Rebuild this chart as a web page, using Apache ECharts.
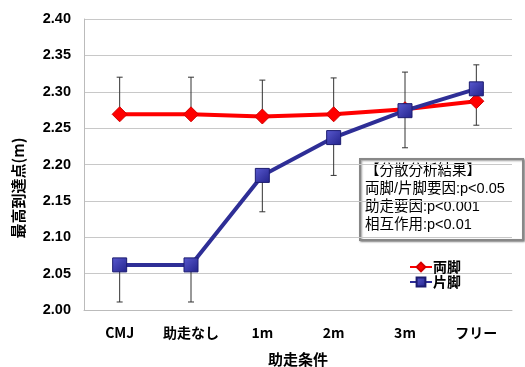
<!DOCTYPE html>
<html>
<head>
<meta charset="utf-8">
<script src="https://cdn.jsdelivr.net/npm/echarts@6/dist/echarts.min.js"></script>
<style>
  html, body { margin: 0; padding: 0; background: #fff; }
  #main { width: 525px; height: 367px; }
</style>
</head>
<body>
<div id="main"></div>
<script>
// データ
var categories = ['CMJ', '助走なし', '1m', '2m', '3m', 'フリー'];
var ryoashi = [2.269, 2.269, 2.266, 2.269, 2.276, 2.287];   // 両脚
var kataashi = [2.062, 2.062, 2.185, 2.237, 2.274, 2.304];  // 片脚
var ryoashiSD = [0.051, 0.051, 0.050, 0.050, 0.051, 0.050];
var kataashiSD = [0.051, 0.051, 0.050, 0.052, 0.051, 0.050];
var yTicks = [2.00, 2.05, 2.10, 2.15, 2.20, 2.25, 2.30, 2.35, 2.40];
var anovaLines = ['【分散分析結果】', '両脚/片脚要因:p<0.05', '助走要因:p<0.001', '相互作用:p<0.01'];

var FONT = '"Liberation Sans", "Noto Sans CJK JP", sans-serif';
var JFONT = '"Noto Sans CJK JP", "Liberation Sans", sans-serif';
var RED = '#ff0000';
var BLUE = '#2e2e96';

var chart = echarts.init(document.getElementById('main'));

// エラーバー (dir: 1 = 上, -1 = 下)
function errorData(vals, sds) {
    var out = [];
    for (var i = 0; i < vals.length; i++) {
        out.push([i, vals[i], sds[i]]);
    }
    return out;
}
function errorRenderer(dir) {
    return function (params, api) {
        var i = api.value(0);
        var v = api.value(1);
        var e = api.value(2);
        var p0 = api.coord([i, v]);
        var p1 = api.coord([i, v + dir * e]);
        var cap = 3;
        var st = { stroke: '#333', lineWidth: 1 };
        return {
            type: 'group',
            children: [
                { type: 'line', shape: { x1: p0[0], y1: p0[1], x2: p1[0], y2: p1[1] }, style: st },
                { type: 'line', shape: { x1: p1[0] - cap, y1: p1[1], x2: p1[0] + cap, y2: p1[1] }, style: st }
            ]
        };
    };
}

var textChildren = [];
for (var k = 0; k < anovaLines.length; k++) {
    textChildren.push({
        type: 'text',
        x: 5,
        y: 5 + k * 18,
        style: { text: anovaLines[k], font: '14.5px ' + FONT, fill: '#000' }
    });
}

var option = {
    animation: false,
    grid: { left: 84, right: 13, top: 19, bottom: 57, outerBoundsMode: 'none' },
    xAxis: {
        type: 'category',
        data: categories,
        boundaryGap: true,
        name: '助走条件',
        nameLocation: 'middle',
        nameGap: 42,
        nameTextStyle: { fontFamily: JFONT, fontSize: 15, fontWeight: 'bold', color: '#000' },
        axisLine: { lineStyle: { color: '#bbb', width: 1 } },
        axisTick: { inside: true, length: 4, lineStyle: { color: '#bbb' } },
        axisLabel: { interval: 0, fontFamily: JFONT, fontSize: 14, fontWeight: 'bold', color: '#000', margin: 16 }
    },
    yAxis: {
        type: 'value',
        min: 2.00,
        max: 2.40,
        interval: 0.05,
        axisLine: { show: true, lineStyle: { color: '#bbb', width: 1 } },
        axisTick: { show: false },
        splitLine: { lineStyle: { color: '#c8c8c8', width: 1 } },
        axisLabel: {
            fontFamily: FONT, fontSize: 14.5, fontWeight: 'bold', color: '#000', margin: 13,
            formatter: function (v) { return v.toFixed(2); }
        }
    },
    legend: {
        orient: 'vertical',
        left: 404,
        top: 255,
        itemGap: 1,
        itemWidth: 22,
        itemHeight: 11,
        textStyle: { fontFamily: JFONT, fontSize: 14, fontWeight: 'bold', color: '#000', padding: [0, 0, 0, -4] },
        data: ['両脚', '片脚']
    },
    series: [
        {
            type: 'custom',
            renderItem: errorRenderer(1),
            data: errorData(ryoashi, ryoashiSD),
            z: 1,
            silent: true
        },
        {
            type: 'custom',
            renderItem: errorRenderer(-1),
            data: errorData(kataashi, kataashiSD),
            z: 1,
            silent: true
        },
        {
            name: '両脚',
            type: 'line',
            data: ryoashi,
            symbol: 'diamond',
            symbolSize: 15,
            lineStyle: { color: RED, width: 4 },
            itemStyle: { color: RED, borderColor: '#d00000', borderWidth: 1 },
            z: 3
        },
        {
            name: '片脚',
            type: 'line',
            data: kataashi,
            symbol: 'rect',
            symbolSize: 14,
            lineStyle: { color: BLUE, width: 4 },
            itemStyle: {
                color: new echarts.graphic.LinearGradient(0, 0, 1, 1, [
                    { offset: 0, color: '#5a5ad0' },
                    { offset: 1, color: '#22228a' }
                ]),
                borderColor: '#1c1c70',
                borderWidth: 1
            },
            z: 4
        }
    ],
    graphic: [
        {
            type: 'text',
            x: 18,
            y: 188,
            rotation: Math.PI / 2,
            style: {
                text: '最高到達点(m)', font: 'bold 15px ' + JFONT, fill: '#000',
                align: 'center', verticalAlign: 'middle'
            }
        },
        {
            type: 'group',
            x: 360,
            y: 159,
            z: 10,
            children: [
                {
                    type: 'rect',
                    shape: { x: 0, y: 0, width: 163, height: 81 },
                    style: {
                        fill: '#fff', stroke: '#888', lineWidth: 2,
                        shadowBlur: 2, shadowOffsetX: 1, shadowOffsetY: 1, shadowColor: 'rgba(0,0,0,0.4)'
                    }
                }
            ].concat(textChildren)
        }
    ]
};

chart.setOption(option);
</script>
</body>
</html>
